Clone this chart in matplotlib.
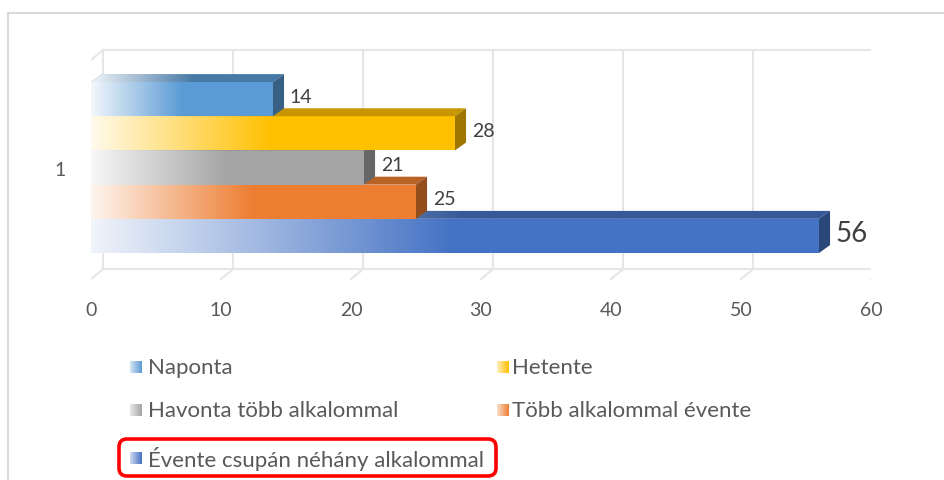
import numpy as np
import matplotlib
matplotlib.use("Agg")
import matplotlib.pyplot as plt
from matplotlib.patches import Polygon, FancyBboxPatch
from matplotlib.colors import to_rgb

plt.rcParams['font.family'] = ['Lato', 'DejaVu Sans']

# data
category = ["1"]
series = ["Naponta", "Hetente", "Havonta több alkalommal",
          "Több alkalommal évente", "Évente csupán néhány alkalommal"]
values = [14, 28, 21, 25, 56]
colors = ["#5B9BD5", "#FFC000", "#A5A5A5", "#ED7D31", "#4472C4"]
xticks = [0, 10, 20, 30, 40, 50, 60]

W, H = 944, 481
TXT = "#595959"
GRID = "#e6e6e6"

fig = plt.figure(figsize=(W / 100, H / 100), dpi=100)

# overlay axes in pixel coords for frame / legend
ov = fig.add_axes([0, 0, 1, 1], zorder=5)
ov.set_xlim(0, W); ov.set_ylim(H, 0); ov.axis("off")
ov.patch.set_alpha(0)
ov.plot([8, W], [14, 14], color="#d9d9d9", lw=1.5)
ov.plot([8, 8], [14, H], color="#d9d9d9", lw=1.5)

# main axes: front plane 0 -> px 91, 60 -> px 871; y from px 40 to 290
ax = fig.add_axes([91 / W, (H - 290) / H, 780 / W, 250 / H])
ax.set_xlim(0, 60)
ax.set_ylim(-0.5684, 0.6012)
for s in ax.spines.values():
    s.set_visible(False)
ax.patch.set_alpha(0)

# depth offsets (data units)
DXW, DYW = 0.95, 0.047   # walls
DX, DY = 0.85, 0.037     # bars
wall_top, floor_back, floor_front = 0.55, -0.475, -0.522

# back wall gridlines and floor
for v in xticks:
    ax.plot([v + DXW, v + DXW], [floor_back, wall_top], color=GRID, lw=1.5, zorder=0)
    ax.plot([v + DXW, v], [floor_back, floor_front], color=GRID, lw=1.5, zorder=0)
ax.plot([DXW, 60 + DXW], [wall_top, wall_top], color=GRID, lw=1.5, zorder=0)
ax.plot([DXW, 60 + DXW], [floor_back, floor_back], color=GRID, lw=1.5, zorder=0)
ax.plot([DXW, 0], [wall_top, wall_top - DYW], color=GRID, lw=1.5, zorder=0)

# bars
n = len(series)
bh = 0.16
pos = [(n // 2 - i) * bh for i in range(n)]


def shade(c, f):
    r, g, b = to_rgb(c)
    return (r * f, g * f, b * f)


def white_fade(patch, x1, y0, y1, z):
    grad = np.zeros((1, 256, 4))
    grad[..., :3] = 1.0
    grad[0, :, 3] = np.linspace(0.93, 0.0, 256)
    im = ax.imshow(grad, extent=(0, x1, y0, y1), aspect="auto",
                   interpolation="bilinear", zorder=z)
    im.set_clip_path(patch)


bars = ax.barh(pos, values, height=bh, color=colors, zorder=2)
for i in range(n - 1, -1, -1):
    b = bars[i]
    v = values[i]
    y0, y1 = pos[i] - bh / 2, pos[i] + bh / 2
    z = 2 + (n - i) * 0.1
    b.set_zorder(z)
    top = Polygon([(0, y1), (v, y1), (v + DX, y1 + DY), (DX, y1 + DY)],
                  closed=True, facecolor=shade(colors[i], 0.78), edgecolor="none", zorder=z)
    side = Polygon([(v, y0), (v, y1), (v + DX, y1 + DY), (v + DX, y0 + DY)],
                   closed=True, facecolor=shade(colors[i], 0.62), edgecolor="none", zorder=z)
    ax.add_patch(top)
    ax.add_patch(side)
    white_fade(b, v / 2, y0, y1, z + 0.01)
    white_fade(top, v / 2 + DX, y1, y1 + DY, z + 0.01)

# data labels
for i, v in enumerate(values):
    ax.annotate(str(v), (v, pos[i]), xytext=(12, 2), textcoords="offset points",
                ha="left", va="center", color="#404040",
                fontsize=20 if v == max(values) else 14, zorder=10)

ax.set_xticks(xticks)
ax.set_xticklabels([str(t) for t in xticks], fontsize=14, color=TXT)
ax.set_yticks([0])
ax.set_yticklabels(category, fontsize=14, color=TXT)
ax.tick_params(axis="x", length=0, pad=9)
ax.tick_params(axis="y", length=0, pad=18)

# legend (Excel-style, two columns, row-major)
leg_x = [(130, 148), (497, 512)]
leg_y = [368, 411, 459]
for i, name in enumerate(series):
    mx, tx = leg_x[i % 2]
    ly = leg_y[i // 2]
    g = np.zeros((1, 64, 4))
    g[..., :3] = to_rgb(colors[i])
    g[0, :, 3] = np.linspace(0.25, 1.0, 64)
    ov.imshow(g, extent=(mx, mx + 12, ly + 6, ly - 6), aspect="auto", interpolation="bilinear")
    ov.text(tx, ly, name, fontsize=16, color=TXT, ha="left", va="center")
ov.set_xlim(0, W); ov.set_ylim(H, 0)

ov.add_patch(FancyBboxPatch((119, 440), 377, 37, boxstyle="round,pad=0,rounding_size=8",
                            fill=False, edgecolor="#ff0000", lw=2.6))

fig.savefig("out.png", dpi=100)
